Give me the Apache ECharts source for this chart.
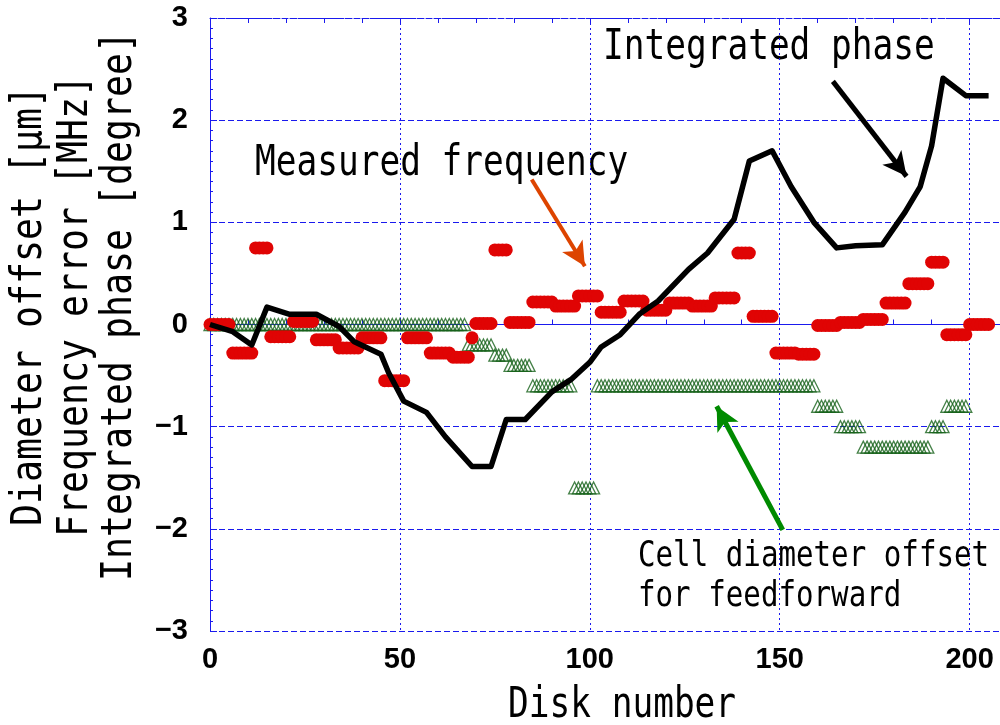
<!DOCTYPE html>
<html>
<head>
<meta charset="utf-8">
<title>Disk number chart</title>
<script src="https://cdn.jsdelivr.net/npm/echarts@6/dist/echarts.min.js"></script>
<style>
  html, body { margin: 0; padding: 0; background: #fff; }
  #chart { width: 1000px; height: 725px; }
</style>
</head>
<body>
<div id="chart"></div>
<script>
  // integrated phase [degree], read at the corners of the black line
  const phaseDisks = [0, 6, 11, 15, 21, 28, 34, 38, 45, 47, 51, 57, 62, 69, 74, 78, 83, 90, 95, 100,
    103, 108, 113, 118, 126, 131, 138, 142, 148, 153, 159, 165, 170, 177, 183, 187, 190, 193, 199, 205]
  const phaseValues = [0, -0.07, -0.2, 0.17, 0.1, 0.1, -0.02, -0.17, -0.29, -0.47, -0.75, -0.86, -1.1, -1.39, -1.39, -0.93, -0.93, -0.66, -0.54, -0.37,
    -0.22, -0.1, 0.1, 0.23, 0.54, 0.7, 1.03, 1.6, 1.7, 1.35, 1.0, 0.75, 0.77, 0.78, 1.1, 1.35, 1.75, 2.41, 2.24, 2.24]

  // measured frequency error [MHz]: [first disk, last disk, value]
  const freqRuns = [
    [0, 5, 0.00], [6, 11, -0.28], [12, 15, 0.75], [16, 21, -0.12], [22, 27, 0.03],
    [28, 33, -0.15], [34, 39, -0.23], [40, 45, -0.13], [46, 51, -0.55], [52, 57, -0.13],
    [58, 63, -0.28], [64, 68, -0.32], [69, 69, -0.13], [70, 74, 0.01], [75, 78, 0.73],
    [79, 84, 0.02], [85, 90, 0.22], [91, 96, 0.18], [97, 102, 0.28], [103, 108, 0.12],
    [109, 114, 0.23], [115, 120, 0.14], [121, 126, 0.21], [127, 132, 0.18], [133, 138, 0.26],
    [139, 142, 0.70], [143, 148, 0.08], [149, 154, -0.28], [155, 159, -0.29], [160, 165, -0.01],
    [166, 171, 0.02], [172, 177, 0.05], [178, 183, 0.21], [184, 189, 0.40], [190, 193, 0.61],
    [194, 199, -0.10], [200, 205, 0.00]
  ]

  // cell diameter offset for feedforward [um]: [first disk, last disk, value]
  const offsetRuns = [
    [0, 67, 0], [68, 74, -0.2], [75, 78, -0.3], [79, 84, -0.4], [85, 95, -0.6],
    [96, 101, -1.6], [102, 159, -0.6], [160, 165, -0.8], [166, 171, -1.0], [172, 189, -1.2],
    [190, 193, -1.0], [194, 199, -0.8]
  ]

  const xTicks = [0, 50, 100, 150, 200]
  const yTicks = [-3, -2, -1, 0, 1, 2, 3]

  function expandRuns (runs) {
    let arr = []
    runs.forEach(r => {
      for (let d = r[0]; d <= r[1]; d++) {
        arr.push([d, r[2]])
      }
    })
    return arr
  }

  const phaseData = phaseDisks.map((d, i) => [d, phaseValues[i]])
  const freqData = expandRuns(freqRuns)
  const offsetData = expandRuns(offsetRuns)

  const blue = '#1a1aee'
  const tickFont = "'Liberation Sans', Arial, sans-serif"
  const monoFont = "'DejaVu Sans Mono', 'Liberation Mono', monospace"

  function minusFmt (v) {
    return v < 0 ? '\u2212' + Math.abs(v) : String(v)
  }

  // condensed monospace text, like the original plot font
  function label (text, x, y, size, sx, rotated) {
    return {
      type: 'text',
      x: x,
      y: y,
      rotation: rotated ? Math.PI / 2 : 0,
      scaleX: sx,
      silent: true,
      style: {
        text: text,
        fontSize: size,
        fontFamily: monoFont,
        fill: '#000',
        align: rotated ? 'center' : 'left',
        verticalAlign: 'middle'
      }
    }
  }

  let mychart = echarts.init(document.getElementById('chart'), null, { renderer: 'canvas' })
  let options = {
    animation: false,
    backgroundColor: '#fff',
    grid: {
      left: 210,
      right: 0,
      top: 18,
      bottom: 94,
      outerBoundsMode: 'none'
    },
    xAxis: [
      {
        type: 'value',
        min: xTicks[0],
        max: 208,
        interval: 50,
        axisLine: { lineStyle: { color: blue, width: 1 } },
        axisTick: { inside: true, length: 7, lineStyle: { color: blue } },
        minorTick: { show: true, splitNumber: 5, length: 5, lineStyle: { color: blue } },
        splitLine: { show: true, lineStyle: { color: blue, type: [2, 3], width: 1 } },
        axisLabel: {
          color: '#000',
          fontSize: 29,
          fontWeight: 'bold',
          fontFamily: tickFont,
          margin: 14,
          showMaxLabel: false
        }
      },
      {
        type: 'value',
        position: 'top',
        min: xTicks[0],
        max: 208,
        interval: 50,
        axisLine: { show: true, lineStyle: { color: blue, width: 1, type: [6, 2] } },
        axisTick: { inside: true, length: 7, lineStyle: { color: blue } },
        minorTick: { show: true, splitNumber: 5, length: 5, lineStyle: { color: blue } },
        splitLine: { show: false },
        axisLabel: { show: false }
      }
    ],
    yAxis: {
      type: 'value',
      min: yTicks[0],
      max: yTicks[yTicks.length - 1],
      interval: 1,
      axisLine: { show: true, lineStyle: { color: blue, width: 1 } },
      axisTick: { show: true, inside: true, length: 7, lineStyle: { color: blue } },
      minorTick: { show: true, splitNumber: 10, length: 3, lineStyle: { color: blue } },
      splitLine: { show: true, lineStyle: { color: blue, type: [6, 3], width: 1 } },
      axisLabel: {
        color: '#000',
        fontSize: 29,
        fontWeight: 'bold',
        fontFamily: tickFont,
        margin: 22,
        formatter: minusFmt
      }
    },
    series: [
      {
        name: 'Integrated phase',
        type: 'line',
        data: phaseData,
        symbol: 'none',
        lineStyle: { color: '#000', width: 5.5, join: 'round' },
        markLine: {
          silent: true,
          symbol: ['none', 'arrow'],
          symbolSize: [18, 24],
          label: { show: false },
          emphasis: { disabled: true },
          data: [
            [{ coord: [164, 2.38], lineStyle: { color: '#000', width: 5, type: 'solid' } }, { coord: [183.4, 1.45] }],
            [{ coord: [84.7, 1.42], lineStyle: { color: '#dd4400', width: 4, type: 'solid' } }, { coord: [98.7, 0.57] }],
            [{ coord: [150.8, -2.01], lineStyle: { color: '#008a00', width: 5, type: 'solid' } }, { coord: [133.4, -0.8] }]
          ]
        }
      },
      {
        name: 'Cell diameter offset for feedforward',
        type: 'scatter',
        data: offsetData,
        symbol: 'triangle',
        symbolSize: [12, 12],
        itemStyle: { color: 'rgba(0,0,0,0)', borderColor: '#17621a', borderWidth: 1.3 }
      },
      {
        name: 'Measured frequency',
        type: 'scatter',
        data: freqData,
        symbol: 'circle',
        symbolSize: 13,
        itemStyle: { color: '#e00404', borderWidth: 0, opacity: 1 }
      }
    ],
    graphic: [
      label('Diameter offset [\u03bcm]', 30, 306, 42, 0.87, true),
      label('Frequency error [MHz]', 76, 306, 42, 0.87, true),
      label('Integrated phase [degree]', 120, 306, 42, 0.87, true),
      label('Disk number', 508, 706, 42, 0.82),
      label('Integrated phase', 603, 48, 42, 0.82),
      label('Measured frequency', 255, 164, 42, 0.82),
      label('Cell diameter offset', 638, 557, 36, 0.81),
      label('for feedforward', 638, 597, 36, 0.81)
    ]
  }
  mychart.setOption(options)
</script>
</body>
</html>
